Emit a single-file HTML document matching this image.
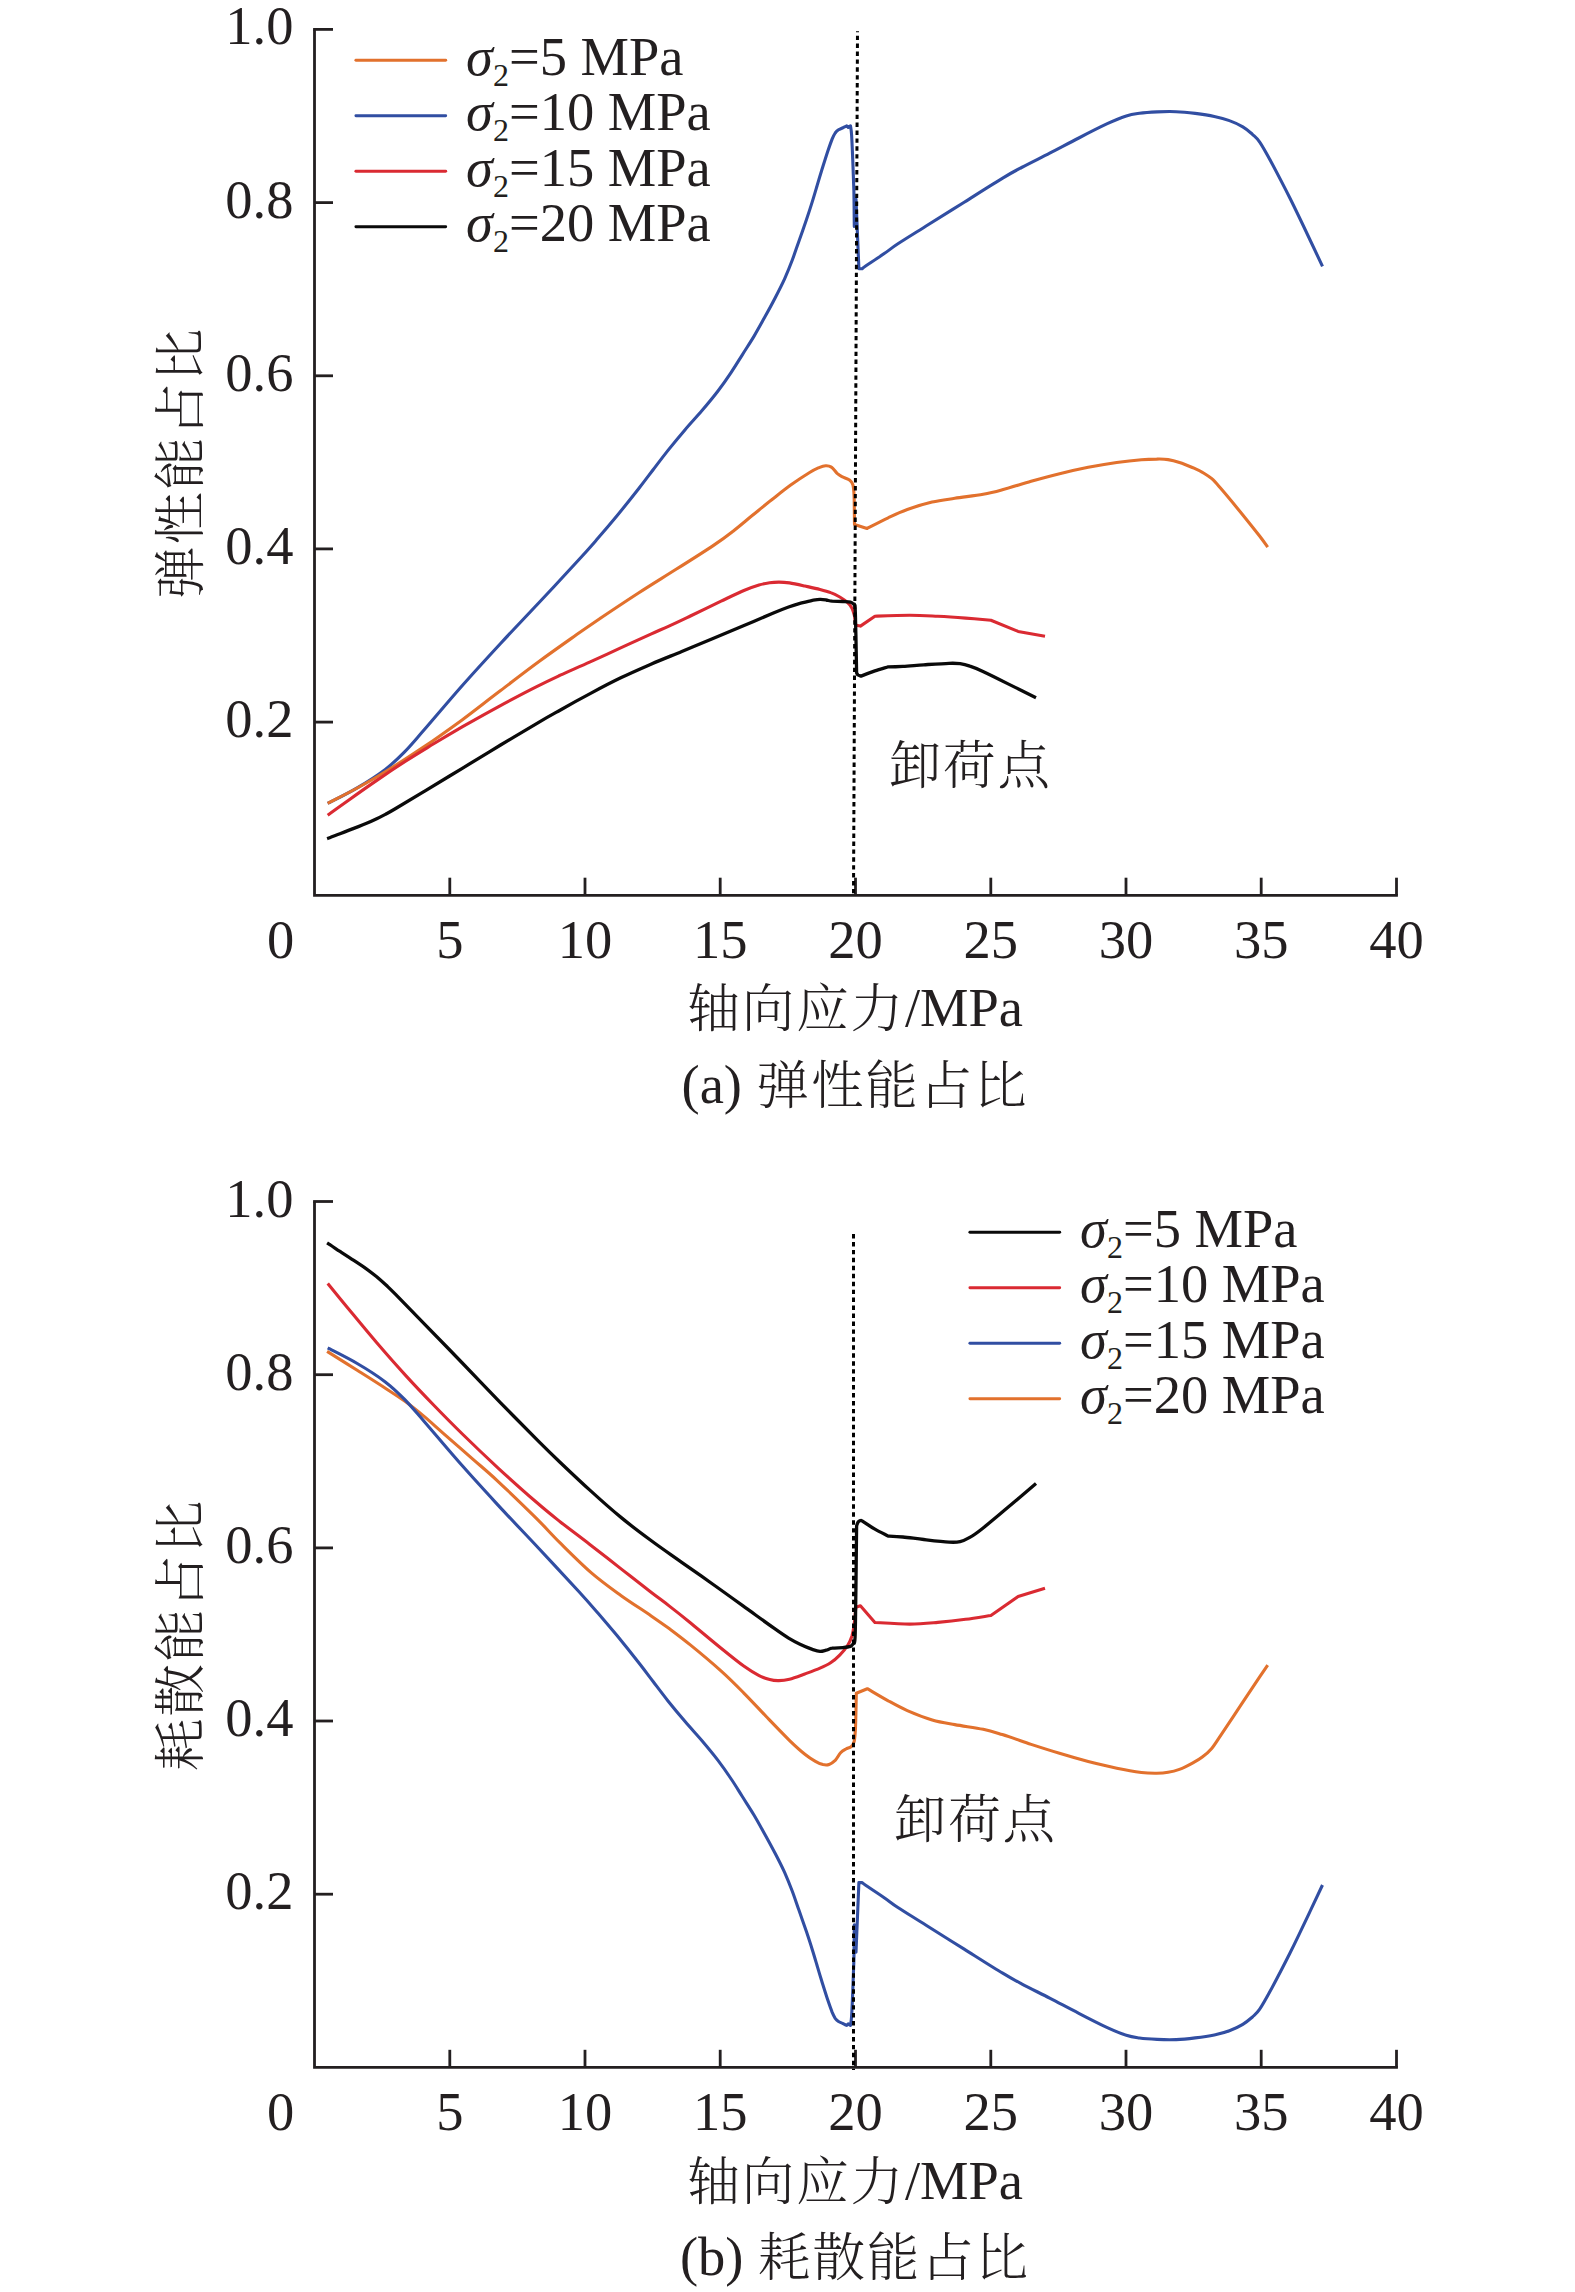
<!DOCTYPE html>
<html lang="zh">
<head>
<meta charset="utf-8">
<title>弹性能占比与耗散能占比</title>
<style>
html,body{margin:0;padding:0;background:#fff;width:1575px;height:2292px;}
svg{display:block;}
.t{font-family:"Liberation Serif","Noto Serif CJK SC",serif;font-size:54.5px;fill:#231f20;}
.i{font-style:italic;}
.s{font-size:32px;}
.c{font-size:52.6px;font-weight:300;letter-spacing:1.8px;}
</style>
</head>
<body>
<svg width="1575" height="2292" viewBox="0 0 1575 2292">
<rect width="1575" height="2292" fill="#fff"/>

<g id="panel-a">
<path d="M327.7 803.4C332.6 800.8 347.6 793.5 357.2 787.8C366.8 782.2 377.4 775.4 385.3 769.4C393.2 763.4 398.1 758.5 404.6 751.9C411.1 745.2 414.7 740.7 424.4 729.6C434.1 718.4 450.1 699.3 462.8 685C475.5 670.6 488.2 656.9 500.8 643.2C513.4 629.6 525.4 617.2 538.4 603.3C551.4 589.4 568.8 570.7 578.8 559.8C588.7 548.9 591.7 545.4 598.1 538.1C604.4 530.8 610 524.2 616.8 516C623.6 507.7 632.8 496.2 638.8 488.5C644.9 480.7 648.5 475.8 653.3 469.5C658.1 463.2 662.5 457.3 667.8 450.6C673.1 444 679.4 436.4 685.1 429.7C690.7 423.1 696.3 417.2 701.8 410.8C707.2 404.4 712.9 397.6 717.8 391.2C722.7 384.8 727.2 378.3 731.2 372.3C735.3 366.3 738.2 361.3 742 355.3C745.8 349.2 750.3 342.4 754.1 336.1C757.9 329.7 761.3 323.4 764.8 317.1C768.3 310.8 771.8 304.4 775.1 298C778.4 291.7 781.7 285.2 784.6 278.9C787.4 272.5 789.9 266.3 792.3 260C794.7 253.6 796.6 247.7 799 241C801.4 234.3 804.2 226.1 806.5 219.5C808.7 212.9 810.6 207.2 812.3 201.6C814.1 196 815.5 191.1 817 186C818.5 180.9 819.7 176.8 821.5 171C823.3 165.3 825.9 156.9 827.7 151.5C829.5 146.2 831 142 832.2 138.9C833.5 135.8 834.2 134.5 835.2 133C836.3 131.5 837.3 130.6 838.5 129.8C839.7 129 841.1 128.7 842.5 128C843.9 127.3 846 126.2 846.7 125.9L848.2 127.4L850.5 125.9C850.7 127.4 851.2 129.2 851.6 135C852 140.9 852.4 151.6 852.8 161C853.2 170.4 853.6 180.5 853.9 191.4C854.1 202.3 854.2 220.7 854.3 226.5L856 199L858.9 268.8L862.2 268.7C862.8 268.2 862.4 268.3 866 265.8C869.7 263.3 878.9 257.3 884.2 253.6C889.5 250 890.9 248.4 897.9 243.8C904.9 239.2 915.1 233 926.1 226C937.1 219.1 951.4 210.2 964.2 202.2C976.9 194.2 993.1 183.8 1002.7 178.1C1012.2 172.3 1013.7 171.6 1021.6 167.5C1029.4 163.3 1040.2 158.1 1049.7 153.2C1059.2 148.3 1069.2 142.9 1078.8 138C1088.4 133 1099.4 127.4 1107.3 123.7C1115.2 120.1 1120.9 117.7 1126.3 116C1131.7 114.2 1134.4 114 1139.5 113.3C1144.7 112.6 1151 112.2 1157.1 111.9C1163.2 111.6 1169.8 111.4 1176.2 111.7C1182.5 111.9 1188.8 112.6 1195.2 113.4C1201.5 114.2 1208.5 115.2 1214.3 116.4C1220 117.6 1224.7 118.8 1229.4 120.6C1234.2 122.3 1239 124.6 1242.8 126.9C1246.6 129.1 1249.5 131.8 1252.4 134.3C1255.2 136.9 1256.6 137.5 1259.7 142.1C1262.9 146.7 1266.1 152.6 1271.2 162C1276.2 171.4 1283.6 185.5 1290 198.3C1296.4 211.2 1304.2 227.6 1309.6 239C1315 250.3 1320.3 261.7 1322.5 266.3" stroke="#314ea2" stroke-width="3.1" fill="none" stroke-linejoin="round" stroke-linecap="butt"/>
<path d="M327.7 803.4C332.6 800.8 347.5 793.4 357.3 788C367 782.6 375 778.1 386.1 771.2C397.2 764.4 411.3 755.4 423.9 746.9C436.6 738.3 449.3 729.2 462.1 719.9C474.8 710.5 487.7 700.2 500.6 690.5C513.4 680.8 526.3 670.8 539 661.5C551.6 652.2 566.5 641.8 576.7 634.6C586.9 627.4 589.7 625.5 600 618.5C610.3 611.6 625.8 601.2 638.5 593C651.1 584.8 663.5 577.3 676.1 569.3C688.7 561.4 704.4 551.5 713.9 545.1C723.4 538.8 726.7 536.2 733.1 531.2C739.6 526.2 746.1 520.5 752.5 515.3C758.9 510.1 765 505 771.4 500C777.8 495 784.4 489.7 790.7 485.1C797.1 480.5 804.9 475.4 809.6 472.5C814.3 469.6 816.3 468.8 819 467.6C821.7 466.5 823.6 465.8 825.7 465.7C827.8 465.6 829.5 465.8 831.4 467.1C833.3 468.3 835.4 471.7 837.1 473.3C838.9 474.9 839.9 475.5 841.9 476.6C844 477.7 847.6 478.7 849.5 480C851.3 481.4 852.1 482.1 852.9 484.8C853.7 487.5 853.8 489.6 854.1 496.2C854.3 502.8 854.4 519.8 854.5 524.5L867 528.5C870.5 526.7 881.5 520.9 888.2 517.8C894.9 514.6 900 512.1 907.3 509.5C914.6 506.9 924.1 504 932.1 502.1C940 500.3 946.3 499.6 954.8 498.3C963.3 497 975.3 495.7 983.2 494.3C991.1 492.8 994.3 491.9 1002.3 489.7C1010.3 487.6 1021.6 484 1031.1 481.3C1040.6 478.6 1050 476 1059.6 473.7C1069.1 471.3 1078.7 469.2 1088.2 467.3C1097.7 465.5 1107.9 463.8 1116.7 462.5C1125.6 461.3 1134.8 460.3 1141.4 459.7C1148.1 459.1 1152.3 459.1 1156.7 459.1C1161.1 459 1164.3 459 1168.1 459.6C1171.9 460.2 1175.3 461.1 1179.5 462.5C1183.6 463.8 1189.1 466.1 1192.9 467.7C1196.7 469.4 1199.2 470.5 1202.4 472.3C1205.5 474.2 1208.6 475.9 1211.8 478.7C1215 481.5 1216.5 483.5 1221.3 489.1C1226.1 494.6 1234 504.2 1240.4 512C1246.7 519.8 1254.8 529.9 1259.4 535.8C1263.9 541.6 1266.3 545.2 1267.7 547.1" stroke="#e2712d" stroke-width="3.1" fill="none" stroke-linejoin="round" stroke-linecap="butt"/>
<path d="M327.7 815.2C331.1 812.7 340 806.3 348.2 800.5C356.3 794.7 367.2 786.9 376.8 780.4C386.3 773.8 396 767.3 405.5 761.2C415 755.1 424.2 749.6 433.7 743.8C443.2 738 451.9 732.8 462.6 726.6C473.4 720.5 486 713.4 498.2 706.8C510.5 700.2 525.8 692.1 536.2 686.9C546.5 681.6 551.3 679.4 560.3 675.2C569.3 671.1 580.1 666.5 590.2 661.9C600.3 657.3 611 652.3 621.2 647.7C631.4 643 643.4 637.5 651.4 633.8C659.5 630.2 663 628.8 669.5 625.8C676 622.9 681.8 620.1 690.4 616C699 611.9 712.2 605.4 721.1 601.1C730 596.9 737.6 593.2 743.9 590.5C750.2 587.8 754.7 586.3 759 585C763.3 583.7 766.4 583.2 769.7 582.7C773 582.2 775.6 582.1 778.9 582.1C782.2 582.1 785.2 582.3 789.5 582.9C793.8 583.6 799.7 584.9 804.8 586C809.9 587.1 815.7 588.3 820 589.4C824.3 590.5 827.4 591.3 830.7 592.6C834 593.8 837 595.4 839.8 597C842.6 598.7 845.3 600.5 847.4 602.4C849.4 604.2 850.8 606 852 608.2C853.1 610.3 853.6 612.5 854.3 615.3C854.9 618.2 855.5 623.5 855.8 625.2L860.4 626.1L874.9 616.2C880.7 616 899.3 615.3 909.8 615.3C920.3 615.3 928.5 615.8 937.8 616.2C947.1 616.7 956.8 617.4 965.7 618.1C974.5 618.8 986.7 619.9 990.9 620.3L1018.1 631.4L1045 636.3" stroke="#da2a32" stroke-width="3.1" fill="none" stroke-linejoin="round" stroke-linecap="butt"/>
<path d="M327.1 838.7C329.3 837.9 335.6 835.4 340 833.7C344.5 832 349.5 830.1 353.8 828.4C358.1 826.7 362.2 825.2 366 823.6C369.8 822 373.4 820.4 376.7 818.8C380 817.2 382.8 815.7 386 814C389.2 812.3 389.3 812.3 395.7 808.5C402 804.7 413.2 798 424.3 791.3C435.4 784.6 449.6 776 462.3 768.3C475.1 760.5 487.8 752.7 500.6 745C513.3 737.4 528.8 728.1 538.7 722.3C548.6 716.5 551.4 715 560 710.2C568.6 705.3 580.4 698.8 590.6 693.4C600.8 687.9 611.1 682.5 621.3 677.6C631.4 672.7 641.4 668.4 651.5 664C661.6 659.6 671.7 655.7 681.8 651.5C692 647.3 702.3 643 712.4 638.8C722.6 634.6 732.7 630.3 742.8 626C753 621.7 765.8 616.2 773.4 613C781 609.8 784.2 608.6 788.6 607C793.1 605.4 796 604.5 800 603.4C804 602.4 809.1 601.1 812.4 600.4C815.7 599.8 817.7 599.4 820 599.3C822.3 599.2 824.1 599.6 826.1 600C828.1 600.3 829.4 600.9 832.2 601.2C835 601.4 839.9 601.3 842.9 601.5C845.9 601.7 848.7 601.8 850.5 602.2C852.2 602.6 852.9 603.6 853.4 603.9C853.7 604.5 854.7 602.5 855.1 607.7C855.5 612.9 855.6 624.4 855.9 635.2C856.1 646.1 856.5 666.5 856.6 672.8C856.8 673.1 857.3 674.4 858 675C858.7 675.5 860.5 675.9 861 676.1C863.3 675.2 870.4 672.5 874.9 670.9C879.4 669.4 886 667.5 888.2 666.8C890.6 666.8 897 666.7 902.9 666.3C908.8 666 916.1 665.3 923.8 664.8C931.5 664.3 943 663.5 949 663.3C955 663.1 956.6 663.2 960.1 663.6C963.6 664.1 966.2 664.8 969.9 666.1C973.6 667.3 976.1 668.2 982.4 671.2C988.7 674.1 998.7 679.1 1007.6 683.6C1016.6 688 1031.3 695.3 1036 697.7" stroke="#0a0a0a" stroke-width="3.3" fill="none" stroke-linejoin="round" stroke-linecap="butt"/>
<g stroke="#231f20" stroke-width="2.8" fill="none" stroke-linecap="butt">
<path d="M314.5 29.4 V895.3 H1397.9"/>
<path d="M313.1 29.4 H333"/>
<path d="M314.5 202.6 H333"/>
<path d="M314.5 375.8 H333"/>
<path d="M314.5 548.9 H333"/>
<path d="M314.5 722.1 H333"/>
<path d="M449.8 895.3 V877.7"/>
<path d="M585 895.3 V877.7"/>
<path d="M720.2 895.3 V877.7"/>
<path d="M855.5 895.3 V877.7"/>
<path d="M990.8 895.3 V877.7"/>
<path d="M1126 895.3 V877.7"/>
<path d="M1261.2 895.3 V877.7"/>
<path d="M1396.5 895.3 V877.7"/>
</g>
<g class="t" text-anchor="end">
<text x="293.4" y="44.4">1.0</text>
<text x="293.4" y="217.6">0.8</text>
<text x="293.4" y="390.8">0.6</text>
<text x="293.4" y="563.9">0.4</text>
<text x="293.4" y="737.1">0.2</text>
</g>
<g class="t" text-anchor="middle">
<text x="280.7" y="957.6">0</text>
<text x="449.8" y="957.6">5</text>
<text x="585" y="957.6">10</text>
<text x="720.2" y="957.6">15</text>
<text x="855.5" y="957.6">20</text>
<text x="990.8" y="957.6">25</text>
<text x="1126" y="957.6">30</text>
<text x="1261.2" y="957.6">35</text>
<text x="1396.5" y="957.6">40</text>
<text x="855.2" y="1026.4"><tspan class="c" dy="1">轴向应力</tspan><tspan dy="-1">/MPa</tspan></text>
<text x="855" y="1103">(a) <tspan class="c" dy="1" dx="0.9">弹性能占比</tspan></text>
<text transform="translate(198.5 462.8) rotate(-90)" x="0" y="0"><tspan class="c">弹性能占比</tspan></text>
</g>
<text class="t" x="888.7" y="783.5"><tspan class="c">卸荷点</tspan></text>
<path d="M857.5 31.2L853.5 895" stroke="#000" stroke-width="3" stroke-dasharray="4.4 3.5" stroke-dashoffset="3.4" fill="none"/>
<path d="M355.9 60.3H445.7" stroke="#e2712d" stroke-width="2.9" stroke-linecap="round" fill="none"/>
<text class="t" x="466" y="74.6"><tspan class="i">σ</tspan><tspan class="s" dy="11">2</tspan><tspan dy="-11">=5 MPa</tspan></text>
<path d="M355.9 115.8H445.7" stroke="#314ea2" stroke-width="2.9" stroke-linecap="round" fill="none"/>
<text class="t" x="466" y="130.1"><tspan class="i">σ</tspan><tspan class="s" dy="11">2</tspan><tspan dy="-11">=10 MPa</tspan></text>
<path d="M355.9 171.2H445.7" stroke="#da2a32" stroke-width="2.9" stroke-linecap="round" fill="none"/>
<text class="t" x="466" y="185.5"><tspan class="i">σ</tspan><tspan class="s" dy="11">2</tspan><tspan dy="-11">=15 MPa</tspan></text>
<path d="M355.9 226.7H445.7" stroke="#0a0a0a" stroke-width="2.9" stroke-linecap="round" fill="none"/>
<text class="t" x="466" y="241"><tspan class="i">σ</tspan><tspan class="s" dy="11">2</tspan><tspan dy="-11">=20 MPa</tspan></text>
</g>
<g id="panel-b">
<path d="M327.1 1351.4C332.2 1354.6 347.7 1364.3 357.6 1370.5C367.4 1376.7 378.2 1383.5 386.1 1388.7C394 1393.8 398.6 1396.7 405 1401.3C411.3 1405.9 417.7 1411.1 424.1 1416.4C430.5 1421.8 435.3 1426.3 443.3 1433.3C451.3 1440.3 463.2 1450.7 472.2 1458.6C481.2 1466.5 486.8 1470.9 497.4 1480.8C508 1490.7 525.4 1507.5 535.9 1517.8C546.3 1528.2 550.8 1533.7 560.1 1542.9C569.4 1552.1 581.5 1564.3 591.7 1573.1C601.9 1581.9 611.3 1588.5 621.2 1595.7C631.1 1602.8 643.1 1610.3 651.2 1615.9C659.2 1621.4 662.9 1624 669.5 1628.8C676 1633.7 681.8 1638 690.3 1644.9C698.8 1651.8 711.5 1662.4 720.4 1670.4C729.3 1678.3 735.9 1685 743.6 1692.8C751.3 1700.5 759 1709 766.7 1717C774.4 1725 783.6 1734.6 789.9 1740.8C796.3 1747 800.6 1750.8 804.9 1754.2C809.1 1757.6 812.4 1759.6 815.4 1761.3C818.5 1763.1 820.7 1764 823 1764.6C825.3 1765.1 827.1 1765.2 829.1 1764.5C831.1 1763.8 833.2 1762.3 835.2 1760.4C837.1 1758.4 838.8 1754.7 840.6 1752.8C842.4 1750.9 844.2 1750 845.9 1749C847.7 1748 849.8 1748 851.2 1746.7C852.6 1745.4 853.5 1744.4 854.2 1741.3C854.9 1738.1 855.1 1735.6 855.5 1727.6C855.8 1719.6 856.2 1699 856.3 1693.3L867.3 1688.7C870.8 1690.7 881.5 1697.2 888.2 1700.8C894.9 1704.5 900 1707.4 907.3 1710.6C914.6 1713.8 924.3 1717.6 932.2 1720C940.1 1722.3 946.3 1723.1 954.8 1724.6C963.3 1726.2 975.2 1727.6 983.2 1729.3C991.1 1730.9 994.3 1732.1 1002.3 1734.6C1010.3 1737.1 1021.6 1741.2 1031.1 1744.4C1040.7 1747.5 1050 1750.5 1059.5 1753.3C1069 1756.2 1078.7 1759 1088.2 1761.5C1097.8 1763.9 1107.9 1766.4 1116.8 1768.2C1125.6 1770 1134.8 1771.6 1141.4 1772.5C1148.1 1773.3 1152.3 1773.2 1156.7 1773.2C1161.1 1773.2 1164.3 1773 1168.1 1772.3C1171.9 1771.7 1175.3 1770.9 1179.4 1769.4C1183.6 1767.8 1189.1 1764.9 1192.9 1762.8C1196.7 1760.8 1199.2 1759.4 1202.3 1757C1205.5 1754.6 1208.5 1752.2 1211.7 1748.4C1214.9 1744.6 1216.6 1741.4 1221.4 1734.3C1226.2 1727.2 1234.1 1715.2 1240.5 1705.7C1246.8 1696.2 1255 1683.9 1259.5 1677.1C1264.1 1670.4 1266.3 1667.1 1267.7 1665.1" stroke="#e2712d" stroke-width="3.1" fill="none" stroke-linejoin="round" stroke-linecap="butt"/>
<path d="M327.7 1347.9C332.6 1350.5 347.6 1357.8 357.2 1363.5C366.8 1369.1 377.4 1375.9 385.3 1381.9C393.2 1387.9 398.1 1392.8 404.6 1399.4C411.1 1406.1 414.7 1410.6 424.4 1421.7C434.1 1432.9 450.1 1452 462.8 1466.3C475.5 1480.7 488.2 1494.4 500.8 1508.1C513.4 1521.7 525.4 1534.1 538.4 1548C551.4 1561.9 568.8 1580.6 578.8 1591.5C588.7 1602.4 591.7 1605.9 598.1 1613.2C604.4 1620.5 610 1627.1 616.8 1635.3C623.6 1643.6 632.8 1655.1 638.8 1662.8C644.9 1670.6 648.5 1675.5 653.3 1681.8C658.1 1688.1 662.5 1694 667.8 1700.7C673.1 1707.3 679.4 1714.9 685.1 1721.6C690.7 1728.2 696.3 1734.1 701.8 1740.5C707.2 1746.9 712.9 1753.7 717.8 1760.1C722.7 1766.5 727.2 1773 731.2 1779C735.3 1785 738.2 1790 742 1796C745.8 1802.1 750.3 1808.9 754.1 1815.2C757.9 1821.6 761.3 1827.9 764.8 1834.2C768.3 1840.5 771.8 1846.9 775.1 1853.3C778.4 1859.6 781.7 1866.1 784.6 1872.4C787.4 1878.8 789.9 1885 792.3 1891.3C794.7 1897.7 796.6 1903.6 799 1910.3C801.4 1917 804.2 1925.2 806.5 1931.8C808.7 1938.4 810.6 1944.1 812.3 1949.7C814.1 1955.3 815.5 1960.2 817 1965.3C818.5 1970.4 819.7 1974.5 821.5 1980.3C823.3 1986 825.9 1994.4 827.7 1999.8C829.5 2005.1 831 2009.3 832.2 2012.4C833.5 2015.5 834.2 2016.8 835.2 2018.3C836.3 2019.8 837.3 2020.7 838.5 2021.5C839.7 2022.3 841.1 2022.6 842.5 2023.3C843.9 2024 846 2025.1 846.7 2025.4L848.2 2023.9L850.5 2025.4C850.7 2023.9 851.2 2022.1 851.6 2016.3C852 2010.4 852.4 1999.7 852.8 1990.3C853.2 1980.9 853.6 1970.8 853.9 1959.9C854.1 1949 854.2 1930.6 854.3 1924.8L856 1952.3L858.9 1882.5L862.2 1882.6C862.8 1883.1 862.4 1883 866 1885.5C869.7 1888 878.9 1894 884.2 1897.7C889.5 1901.3 890.9 1902.9 897.9 1907.5C904.9 1912.1 915.1 1918.3 926.1 1925.3C937.1 1932.2 951.4 1941.1 964.2 1949.1C976.9 1957.1 993.1 1967.5 1002.7 1973.2C1012.2 1979 1013.7 1979.7 1021.6 1983.8C1029.4 1988 1040.2 1993.2 1049.7 1998.1C1059.2 2003 1069.2 2008.4 1078.8 2013.3C1088.4 2018.3 1099.4 2023.9 1107.3 2027.6C1115.2 2031.2 1120.9 2033.6 1126.3 2035.3C1131.7 2037.1 1134.4 2037.3 1139.5 2038C1144.7 2038.7 1151 2039.1 1157.1 2039.4C1163.2 2039.7 1169.8 2039.9 1176.2 2039.6C1182.5 2039.4 1188.8 2038.7 1195.2 2037.9C1201.5 2037.1 1208.5 2036.1 1214.3 2034.9C1220 2033.7 1224.7 2032.5 1229.4 2030.7C1234.2 2029 1239 2026.7 1242.8 2024.4C1246.6 2022.2 1249.5 2019.5 1252.4 2017C1255.2 2014.4 1256.6 2013.8 1259.7 2009.2C1262.9 2004.6 1266.1 1998.7 1271.2 1989.3C1276.2 1979.9 1283.6 1965.8 1290 1953C1296.4 1940.1 1304.2 1923.7 1309.6 1912.3C1315 1901 1320.3 1889.6 1322.5 1885" stroke="#314ea2" stroke-width="3.1" fill="none" stroke-linejoin="round" stroke-linecap="butt"/>
<path d="M327.7 1283.4C331.1 1287.6 340 1298.6 348.2 1308.5C356.4 1318.4 367.2 1331.6 376.8 1342.8C386.4 1354 396.3 1365.3 405.8 1375.6C415.3 1386 424.1 1395.2 433.6 1405C443.1 1414.8 452.1 1424 462.9 1434.5C473.7 1445.1 486.2 1457 498.4 1468.3C510.6 1479.5 525.8 1493.1 536.2 1502C546.5 1511 551.8 1515.1 560.7 1522.2C569.7 1529.2 579.7 1536.6 589.8 1544.4C599.9 1552.2 611.1 1561 621.4 1569.1C631.6 1577.1 643.4 1586.3 651.4 1592.5C659.4 1598.6 662.9 1601 669.4 1606.1C675.9 1611.1 681.7 1615.7 690.3 1622.7C698.9 1629.8 712.2 1641 721.1 1648.2C730.1 1655.5 737.8 1661.7 744.1 1666.3C750.4 1670.8 754.8 1673.4 759.1 1675.6C763.3 1677.8 766.4 1678.7 769.7 1679.5C773 1680.4 775.6 1680.7 778.9 1680.6C782.2 1680.6 785.2 1680.3 789.5 1679.2C793.8 1678 799.7 1675.8 804.8 1674C809.9 1672.1 815.7 1670 820 1668.1C824.3 1666.3 827.3 1665 830.6 1662.8C833.9 1660.6 837 1657.9 839.7 1655.1C842.5 1652.3 845.3 1649.2 847.3 1646C849.3 1642.9 850.7 1639.8 851.9 1636.2C853 1632.5 853.6 1628.8 854.2 1624C854.9 1619.2 855.5 1610 855.8 1607.2L860.4 1605.7L874.9 1622.5C880.7 1622.8 899.3 1624.1 909.8 1624.1C920.3 1624.1 928.5 1623.2 937.8 1622.4C947.2 1621.6 956.8 1620.5 965.6 1619.3C974.5 1618.2 986.7 1616.1 990.9 1615.5L1018.1 1596.6L1045 1588.2" stroke="#da2a32" stroke-width="3.1" fill="none" stroke-linejoin="round" stroke-linecap="butt"/>
<path d="M327.1 1242.9C329.3 1244.3 335.6 1248.5 340 1251.4C344.5 1254.3 349.5 1257.5 353.8 1260.4C358.1 1263.3 362.2 1265.9 366 1268.6C369.8 1271.4 373.3 1274.1 376.7 1276.8C380 1279.6 382.8 1282.1 386 1285C389.1 1288 389.2 1288 395.6 1294.4C402 1300.9 413.2 1312.3 424.3 1323.8C435.4 1335.2 449.6 1349.8 462.3 1363C475 1376.2 487.9 1389.7 500.6 1402.8C513.4 1415.9 529 1431.7 538.9 1441.6C548.8 1451.5 551.4 1454 560 1462.2C568.6 1470.4 580.4 1481.6 590.7 1490.9C600.9 1500.2 611.4 1509.6 621.6 1517.9C631.7 1526.3 641.6 1533.6 651.7 1541C661.7 1548.4 671.6 1555.1 681.7 1562.3C691.9 1569.4 702.3 1576.7 712.5 1584C722.7 1591.2 732.5 1598.3 742.7 1605.7C752.9 1613 765.9 1622.5 773.6 1627.9C781.2 1633.3 784.2 1635.4 788.6 1638.1C793.1 1640.8 796.1 1642.4 800 1644.2C804 1646.1 809.1 1648.2 812.4 1649.4C815.7 1650.5 817.7 1651.2 820 1651.4C822.3 1651.5 824.1 1650.7 826.1 1650.2C828.1 1649.7 829.4 1648.6 832.2 1648.2C835 1647.7 839.9 1647.9 842.9 1647.6C845.9 1647.3 848.7 1647 850.5 1646.4C852.2 1645.7 852.9 1644 853.4 1643.5C853.7 1642.4 854.7 1645.9 855.1 1637C855.5 1628.1 855.6 1608.5 855.9 1590C856.1 1571.5 856.5 1536.7 856.6 1526C856.8 1525.4 857.3 1523.2 858 1522.2C858.7 1521.2 860.5 1520.6 861 1520.3C863.3 1521.8 870.4 1526.5 874.9 1529.1C879.4 1531.7 886 1534.9 888.2 1536.1C890.6 1536.2 897 1536.4 902.9 1537C908.8 1537.5 916.1 1538.7 923.8 1539.5C931.5 1540.4 943 1541.8 949 1542.1C955 1542.5 956.6 1542.4 960.1 1541.6C963.5 1540.8 966.2 1539.5 969.8 1537.4C973.5 1535.3 975.9 1533.7 982.2 1528.7C988.5 1523.8 998.7 1515.1 1007.7 1507.6C1016.6 1500 1031.3 1487.5 1036 1483.5" stroke="#0a0a0a" stroke-width="3.3" fill="none" stroke-linejoin="round" stroke-linecap="butt"/>
<g stroke="#231f20" stroke-width="2.8" fill="none" stroke-linecap="butt">
<path d="M314.5 1201.5 V2067.4 H1397.9"/>
<path d="M313.1 1201.5 H333"/>
<path d="M314.5 1374.7 H333"/>
<path d="M314.5 1547.9 H333"/>
<path d="M314.5 1721 H333"/>
<path d="M314.5 1894.2 H333"/>
<path d="M449.8 2067.4 V2049.8"/>
<path d="M585 2067.4 V2049.8"/>
<path d="M720.2 2067.4 V2049.8"/>
<path d="M855.5 2067.4 V2049.8"/>
<path d="M990.8 2067.4 V2049.8"/>
<path d="M1126 2067.4 V2049.8"/>
<path d="M1261.2 2067.4 V2049.8"/>
<path d="M1396.5 2067.4 V2049.8"/>
</g>
<g class="t" text-anchor="end">
<text x="293.4" y="1216.5">1.0</text>
<text x="293.4" y="1389.7">0.8</text>
<text x="293.4" y="1562.9">0.6</text>
<text x="293.4" y="1736">0.4</text>
<text x="293.4" y="1909.2">0.2</text>
</g>
<g class="t" text-anchor="middle">
<text x="280.7" y="2129.7">0</text>
<text x="449.8" y="2129.7">5</text>
<text x="585" y="2129.7">10</text>
<text x="720.2" y="2129.7">15</text>
<text x="855.5" y="2129.7">20</text>
<text x="990.8" y="2129.7">25</text>
<text x="1126" y="2129.7">30</text>
<text x="1261.2" y="2129.7">35</text>
<text x="1396.5" y="2129.7">40</text>
<text x="855.2" y="2198.5"><tspan class="c" dy="1">轴向应力</tspan><tspan dy="-1">/MPa</tspan></text>
<text x="855" y="2275.1">(b) <tspan class="c" dy="1" dx="0.9">耗散能占比</tspan></text>
<text transform="translate(198.5 1634.9) rotate(-90)" x="0" y="0"><tspan class="c">耗散能占比</tspan></text>
</g>
<text class="t" x="893.8" y="1837.5"><tspan class="c">卸荷点</tspan></text>
<path d="M853.5 1234V2070" stroke="#000" stroke-width="3" stroke-dasharray="4.45 3.5" fill="none"/>
<path d="M969.9 1232.3H1059.7" stroke="#0a0a0a" stroke-width="2.9" stroke-linecap="round" fill="none"/>
<text class="t" x="1080" y="1246.6"><tspan class="i">σ</tspan><tspan class="s" dy="11">2</tspan><tspan dy="-11">=5 MPa</tspan></text>
<path d="M969.9 1287.8H1059.7" stroke="#da2a32" stroke-width="2.9" stroke-linecap="round" fill="none"/>
<text class="t" x="1080" y="1302"><tspan class="i">σ</tspan><tspan class="s" dy="11">2</tspan><tspan dy="-11">=10 MPa</tspan></text>
<path d="M969.9 1343.2H1059.7" stroke="#314ea2" stroke-width="2.9" stroke-linecap="round" fill="none"/>
<text class="t" x="1080" y="1357.5"><tspan class="i">σ</tspan><tspan class="s" dy="11">2</tspan><tspan dy="-11">=15 MPa</tspan></text>
<path d="M969.9 1398.7H1059.7" stroke="#e2712d" stroke-width="2.9" stroke-linecap="round" fill="none"/>
<text class="t" x="1080" y="1413"><tspan class="i">σ</tspan><tspan class="s" dy="11">2</tspan><tspan dy="-11">=20 MPa</tspan></text>
</g>
</svg>
</body>
</html>
